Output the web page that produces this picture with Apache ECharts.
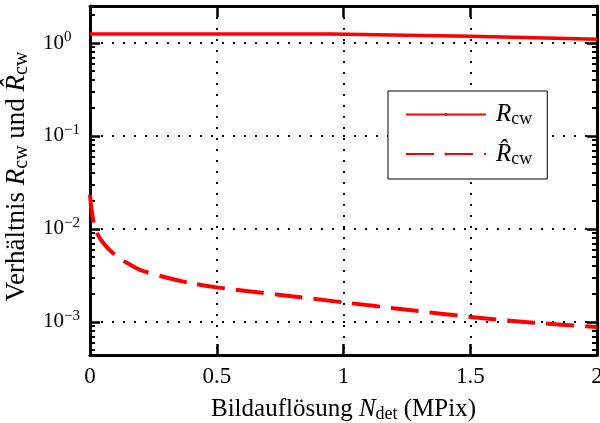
<!DOCTYPE html>
<html>
<head>
<meta charset="utf-8">
<script src="https://cdn.jsdelivr.net/npm/echarts@6/dist/echarts.min.js"></script>
<style>
html, body { margin: 0; padding: 0; background: #fff; }
#main { width: 600px; height: 423px; }
</style>
</head>
<body>
<div id="main"></div>
<script>
// R_cw (solid)
var rcwX = [0, 0.5, 0.95, 1.25, 1.5, 1.75, 2];
var rcwValues = [1.25, 1.25, 1.25, 1.21, 1.18, 1.14, 1.10];
// R_cw hat (dashed)
var rcwHatX = [0, 0.004, 0.008, 0.02, 0.05, 0.1, 0.15, 0.2, 0.3, 0.4, 0.5, 0.75, 1.0, 1.25, 1.5, 1.75, 2.0];
var rcwHatValues = [0.0233, 0.018, 0.0149, 0.0100, 0.0072, 0.0052, 0.00425, 0.0036, 0.0030, 0.0026, 0.00235, 0.00195, 0.00162, 0.00135, 0.00113, 0.00098, 0.00088];

var xTicks = [0, 0.5, 1, 1.5, 2];
var yDecades = [0.001, 0.01, 0.1, 1];
var yMin = 0.00044, yMax = 2.5;

var yMinor = [];
[-4, -3, -2, -1, 0].forEach(function (e) {
  for (var k = 2; k <= 9; k++) {
    var v = k * Math.pow(10, e);
    if (v > yMin && v < yMax) yMinor.push(v);
  }
});

function pairs(xs, ys) {
  return xs.map(function (x, i) { return [x, ys[i]]; });
}

var serif = 'Liberation Serif';
var rich = {
  b: { fontFamily: serif, fontSize: 25, color: '#000' },
  i: { fontFamily: serif, fontSize: 25, fontStyle: 'italic', color: '#000' },
  sub: { fontFamily: serif, fontSize: 18, color: '#000', padding: [10, 0, 0, 0] },
  n: { fontFamily: serif, fontSize: 21, color: '#000' },
  sup: { fontFamily: serif, fontSize: 15, color: '#000', padding: [0, 0, 12, 0] }
};
var richY = {
  b: { fontFamily: serif, fontSize: 27, color: '#000' },
  i: { fontFamily: serif, fontSize: 27, fontStyle: 'italic', color: '#000' },
  sub: { fontFamily: serif, fontSize: 20, color: '#000', padding: [11, 0, 0, 0] }
};

var dotted = { color: '#000', width: 2, type: [2, 9] };
var frame = { color: '#000', width: 3 };
var tickColor = '#000';

function yAxisBase(position) {
  return {
    type: 'log',
    position: position,
    min: yMin, max: yMax,
    axisLine: { show: false, onZero: false },
    axisLabel: { show: false },
    splitLine: { show: false }
  };
}

function ticks(len, w, values) {
  var t = { show: true, inside: true, length: len, lineStyle: { color: tickColor, width: w } };
  if (values) t.customValues = values;
  return t;
}

var yLeft = yAxisBase('left');
yLeft.name = '{b|Verhältnis }{i|R}{sub|cw}{b| und }{i|R\u0302}{sub|cw}';
yLeft.nameLocation = 'middle';
yLeft.nameRotate = 90;
yLeft.nameGap = 47;
yLeft.nameTextStyle = { rich: richY, padding: [0, 0, 0, 8] };
yLeft.axisLine = { show: true, onZero: false, lineStyle: frame };
yLeft.axisTick = ticks(10, 2.5, yDecades);
yLeft.axisLabel = {
  customValues: yDecades,
  margin: 47,
  align: 'left',
  formatter: function (v) {
    var e = Math.round(Math.log10(v));
    return '{n|10}{sup|' + (e < 0 ? '\u2212' + (-e) : e) + '}';
  },
  rich: rich
};
yLeft.splitLine = { show: true, lineStyle: dotted };

var yRight = yAxisBase('right');
yRight.axisLine = { show: true, onZero: false, lineStyle: frame };
yRight.axisTick = ticks(10, 2.5, yDecades);

var yLeftMinor = yAxisBase('left');
yLeftMinor.axisTick = ticks(5, 2, yMinor);

var yRightMinor = yAxisBase('right');
yRightMinor.axisTick = ticks(5, 2, yMinor);

var chartDom = document.getElementById('main');
var myChart = echarts.init(chartDom);
var option;

option = {
  animation: false,
  grid: { left: 90, right: 3, top: 6, bottom: 68, outerBoundsMode: 'none' },
  legend: {
    left: 388,
    top: 91,
    orient: 'vertical',
    padding: [11, 15, 11, 17],
    itemWidth: 80,
    itemHeight: 4,
    itemGap: 13,
    borderColor: '#000',
    borderWidth: 1,
    borderRadius: 0,
    backgroundColor: '#fff',
    data: ['Rcw', 'RcwHat'],
    formatter: function (name) {
      return name === 'Rcw' ? '{i|R}{sub|cw}' : '{i|R\u0302}{sub|cw}';
    },
    textStyle: { padding: [0, 0, 0, 5], rich: rich }
  },
  xAxis: [
    {
      type: 'value',
      position: 'bottom',
      min: 0, max: 2, interval: 0.5,
      name: '{b|Bildauflösung }{i|N}{sub|det}{b| (MPix)}',
      nameLocation: 'middle',
      nameGap: 40,
      nameTextStyle: { rich: rich },
      axisLine: { show: true, onZero: false, lineStyle: frame },
      axisTick: ticks(11, 2.5),
      axisLabel: {
        margin: 10,
        fontFamily: serif, fontSize: 23, color: '#000',
        formatter: function (v) { return String(v); }
      },
      splitLine: { show: true, lineStyle: dotted }
    },
    {
      type: 'value',
      position: 'top',
      min: 0, max: 2, interval: 0.5,
      axisLine: { show: true, onZero: false, lineStyle: frame },
      axisTick: ticks(11, 2.5),
      axisLabel: { show: false },
      splitLine: { show: false }
    }
  ],
  yAxis: [yLeft, yRight, yLeftMinor, yRightMinor],
  series: [
    {
      name: 'Rcw',
      type: 'line',
      xAxisIndex: 0,
      yAxisIndex: 0,
      symbol: 'none',
      data: pairs(rcwX, rcwValues),
      lineStyle: { color: '#ff0000', width: 3.5 },
      itemStyle: { color: '#ff0000' }
    },
    {
      name: 'RcwHat',
      type: 'line',
      xAxisIndex: 0,
      yAxisIndex: 0,
      symbol: 'none',
      smooth: 0.3,
      data: pairs(rcwHatX, rcwHatValues),
      lineStyle: { color: '#ff0000', width: 4, type: [28, 11] },
      itemStyle: { color: '#ff0000' }
    }
  ]
};

option && myChart.setOption(option);
</script>
</body>
</html>
